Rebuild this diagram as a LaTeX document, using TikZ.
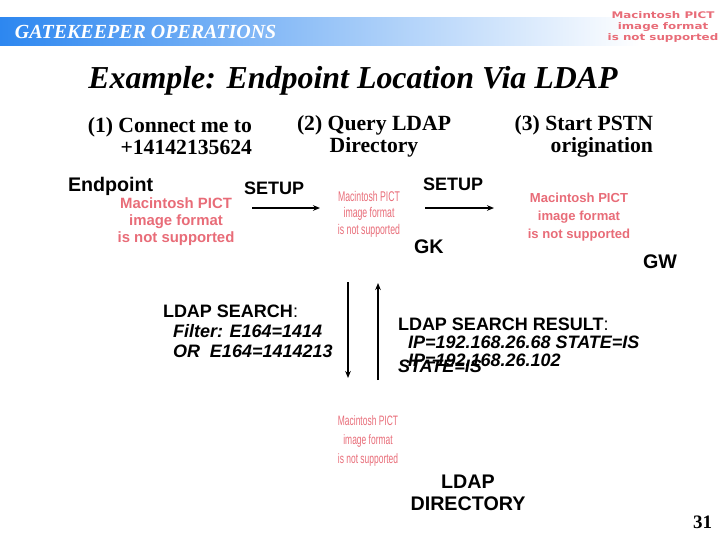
\documentclass[tikz,border=0pt]{standalone}
\usepackage{fontspec}
\setmainfont{Liberation Serif}
\setsansfont{Liberation Sans}
\newfontfamily\narrowfont[FakeStretch=0.62]{Liberation Sans}
\newfontfamily\widefont[FakeStretch=1.3]{DejaVu Sans}
\usetikzlibrary{arrows.meta,positioning}
\definecolor{hdrblue}{RGB}{45,135,240}
\definecolor{pictred}{RGB}{232,108,120}

\begin{document}
\begin{tikzpicture}[x=0.025cm,y=-0.025cm,>=Stealth,
  txt/.style={inner sep=0pt,outer sep=0pt},
  msg/.style={txt,anchor=base west,font=\sffamily\bfseries\fontsize{12.8}{15}\selectfont},
  field/.style={msg,font=\sffamily\bfseries\itshape\fontsize{12.8}{15}\selectfont},
  stepnote/.style={txt,anchor=base,font=\bfseries\fontsize{15.4}{15}\selectfont},
  pict/.style={txt,anchor=base,align=center,text=pictred},
  flow/.style={line width=1.3pt,-{Stealth[length=5pt,width=4pt]}}]
\useasboundingbox (0,0) rectangle (720,540);
\shade[left color=hdrblue,right color=white] (0,17) rectangle (640,45);
\node[txt,anchor=base west,text=white,font=\bfseries\itshape\fontsize{14.2}{16}\selectfont] (hdr) at (15,38) {GATEKEEPER OPERATIONS};
\node[pict,font=\widefont\bfseries\fontsize{6.5}{7.5}\selectfont] (logo) at (663,40) {Macintosh PICT\\image format\\is not supported};
\node[txt,anchor=base,font=\bfseries\itshape\fontsize{22.7}{26}\selectfont] (title) at (353,88) {Example: Endpoint Location Via LDAP};

\node[stepnote,anchor=base east,align=right] (note1) at (252,154) {(1) Connect me to\\+14142135624};
\node[stepnote,align=center] (note2) at (374,152) {(2) Query LDAP\\Directory};
\node[stepnote,anchor=base east,align=right] (note3) at (653,152) {(3) Start PSTN\\origination};

\node[msg,font=\sffamily\bfseries\fontsize{14}{16}\selectfont] (ep) at (68,191) {Endpoint};
\node[pict,font=\sffamily\bfseries\fontsize{10.6}{12}\selectfont] (eppict) at (176,242) {Macintosh PICT\\image format\\is not supported};
\node[msg] (setup1) at (244,194) {SETUP};
\node[pict,font=\narrowfont\fontsize{10}{11.7}\selectfont] (gkpict) at (369,234) {Macintosh PICT\\image format\\is not supported};
\node[msg] (setup2) at (423,190) {SETUP};
\node[msg,font=\sffamily\bfseries\fontsize{14}{16}\selectfont] (gk) at (414,253) {GK};
\node[pict,font=\sffamily\bfseries\fontsize{9.3}{12.8}\selectfont] (gwpict) at (579,238) {Macintosh PICT\\image format\\is not supported};
\node[msg,font=\sffamily\bfseries\fontsize{14}{16}\selectfont] (gw) at (643,268) {GW};

\coordinate (s1a) at (252,208);
\coordinate (s1b) at (320,208);
\coordinate (s2a) at (425,208);
\coordinate (s2b) at (494,208);
\draw[flow] (s1a) -- (s1b);
\draw[flow] (s2a) -- (s2b);

\coordinate (qa) at (348,282);
\coordinate (qb) at (348,378);
\coordinate (ra) at (378,380);
\coordinate (rb) at (378,283);
\draw[flow] (qa) -- (qb);
\draw[flow] (ra) -- (rb);

\node[msg] (search) at (163,317) {LDAP SEARCH{\mdseries:}};
\node[field] (filter) at (173,337) {Filter: E164=1414};
\node[field] (filteror) at (173,357) {OR\ \ E164=1414213};
\node[msg] (result) at (398,330) {LDAP SEARCH RESULT{\mdseries:}};
\node[field] (res1) at (408,348) {IP=192.168.26.68 STATE=IS};
\node[field] (res2) at (408,366) {IP=192.168.26.102};
\node[field] (res2st) at (398,372) {STATE=IS};

\node[pict,font=\narrowfont\fontsize{9.7}{13.5}\selectfont] (dirpict) at (368,463) {Macintosh PICT\\image format\\is not supported};
\node[txt,anchor=base,align=center,font=\sffamily\bfseries\fontsize{14}{15.6}\selectfont] (dir) at (468,510) {LDAP\\DIRECTORY};
\node[txt,anchor=base east,font=\bfseries\fontsize{13.5}{15}\selectfont] (page) at (712,528) {31};
\end{tikzpicture}
\end{document}
